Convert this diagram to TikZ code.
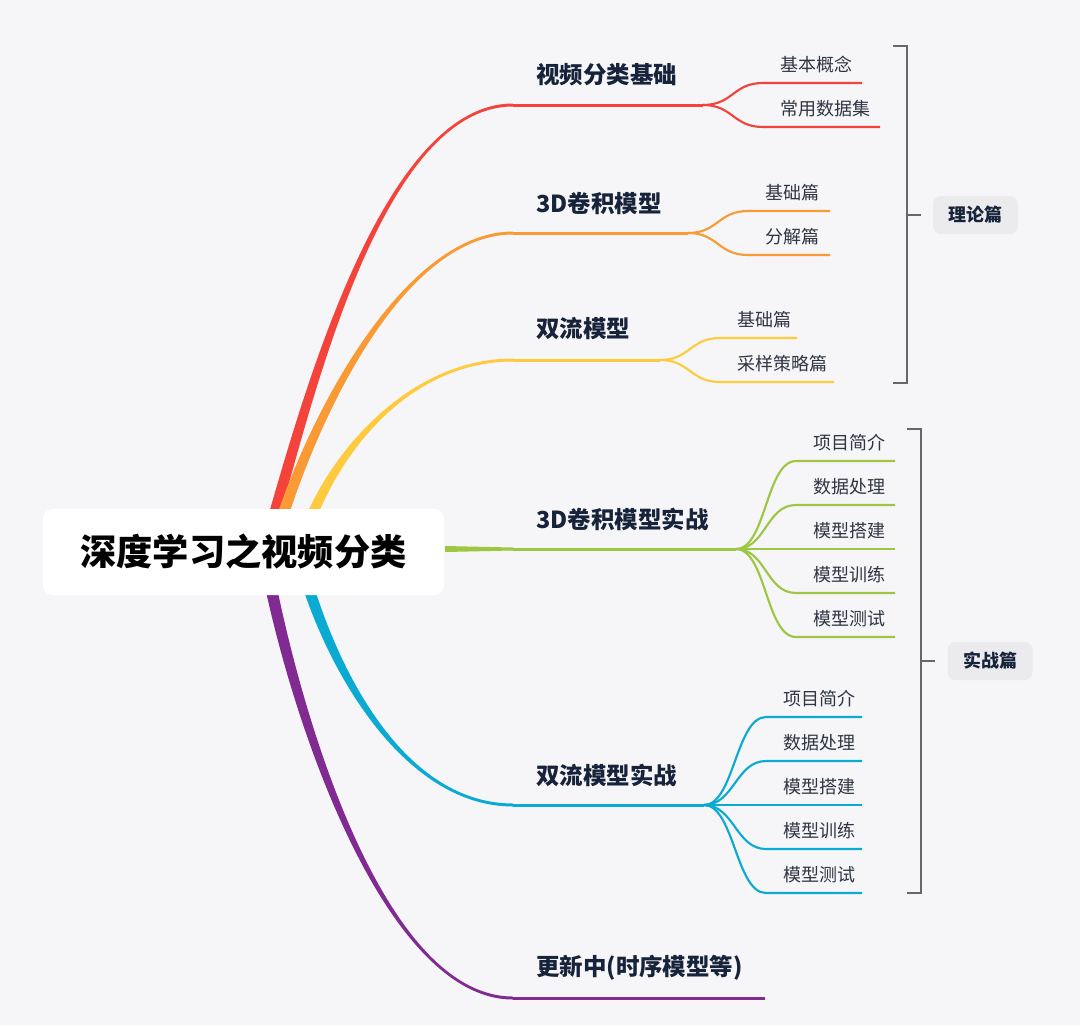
\documentclass[tikz,border=0pt]{standalone}
\usepackage{fontspec}
\setmainfont{Noto Sans CJK SC}
\usetikzlibrary{calc,backgrounds}
\definecolor{bg}{HTML}{F6F6F9}
\definecolor{cred}{HTML}{F4433B}
\definecolor{corange}{HTML}{FA9A34}
\definecolor{cyellow}{HTML}{FECA3E}
\definecolor{cgreen}{HTML}{9EC642}
\definecolor{cblue}{HTML}{0AAAD3}
\definecolor{cpurple}{HTML}{812A91}
\definecolor{ink}{HTML}{17233A}
\definecolor{subink}{HTML}{2F3541}
\definecolor{bracegray}{HTML}{676767}
\definecolor{tagfill}{HTML}{EBEBEE}
\tikzset{
  rootbox/.style={fill=white, rounded corners=7.5pt, minimum width=301pt,
    minimum height=64.5pt, inner sep=0pt, font=\bfseries\fontsize{27.2}{30}\selectfont},
  main/.style={anchor=west, inner sep=0pt, text=ink,
    font=\bfseries\fontsize{17.6}{20}\selectfont},
  subtext/.style={anchor=west, inner sep=0pt, text=subink,
    font=\fontsize{13.5}{16}\selectfont},
  mainline/.style={line width=2.25pt},
  subline/.style={line width=1.6pt},
  brace/.style={draw=bracegray, line width=2pt},
  tag/.style={fill=tagfill, rounded corners=6pt, minimum width=63.75pt,
    minimum height=28.5pt, inner sep=0pt, text=ink,
    font=\bfseries\fontsize{13.5}{16}\selectfont}
}
\begin{document}
\begin{tikzpicture}[x=0.75pt, y=-0.75pt]
\useasboundingbox (0,0) rectangle (1080,1025);

% start and end of the main branches
\coordinate (s1) at (264,551);
\coordinate (s2) at (272,551);
\coordinate (s3) at (300,551);
\coordinate (s4) at (445,549);
\coordinate (s5) at (298,551);
\coordinate (s6) at (264,551);
\coordinate (e1) at (513,105);
\coordinate (e2) at (513,233);
\coordinate (e3) at (513,360);
\coordinate (e4) at (513,549);
\coordinate (e5) at (513,805);
\coordinate (e6) at (513,998);
\coordinate (p1) at (703,105);
\coordinate (p2) at (688,233);
\coordinate (p3) at (660,360);
\coordinate (p4) at (736,549);
\coordinate (p5) at (704,805);
\coordinate (q6) at (765,998);

\begin{scope}[on background layer]
\fill[bg] (0,0) rectangle (1080,1025);
\foreach \col/\s/\e/\sp/\ax/\ay/\bx/\h/\k in {
    cred/s1/e1/p1/36/-121/-138/-1.5/1.5,
    corange/s2/e2/p2/33/-121/-113/-1.5/1.5,
    cyellow/s3/e3/p3/20/-81/-113/-1.5/1.5,
    cblue/s5/e5/p5/27/109/-113/1.5/-1.5,
    cpurple/s6/e6/q6/26/149/-133/1.5/-1.5}{
  \fill[\col] ($(\s)+(-6,0)$) .. controls +(\ax,\ay) and +(\bx,0) .. ($(\e)+(0,\h)$)
    -- ($(\e)+(0,\k)$) .. controls +(\bx,0) and +(\ax,\ay) .. ($(\s)+(6,0)$) -- cycle;
  \draw[mainline, \col] (\e) -- (\sp);
}
\fill[cgreen] ($(s4)+(0,-3)$) -- ($(e4)+(0,-1.5)$) -- ($(e4)+(0,1.5)$) -- ($(s4)+(0,3)$) -- cycle;
\draw[mainline, cgreen] (e4) -- (p4);
\end{scope}

\node[rootbox] (root) at (243.5,552) {深度学习之视频分类};

\node[main] (m1) at (536,75) {视频分类基础};
\node[main] (m2) at (536,203) {3D卷积模型};
\node[main] (m3) at (536,329) {双流模型};
\node[main] (m4) at (536,519) {3D卷积模型实战};
\node[main] (m5) at (536,775) {双流模型实战};
\node[main] (m6) at (536,968) {更新中(时序模型等)};

% sub branches
\foreach \col/\sp/\lx/\ly/\rx/\txt [count=\i] in {
    cred/p1/763/83/862/基本概念,
    cred/p1/763/127/880/常用数据集,
    corange/p2/748/211/830/基础篇,
    corange/p2/748/255/830/分解篇,
    cyellow/p3/720/338/797/基础篇,
    cyellow/p3/720/382/834/采样策略篇,
    cgreen/p4/796/461/895/项目简介,
    cgreen/p4/796/505/895/数据处理,
    cgreen/p4/796/549/895/模型搭建,
    cgreen/p4/796/593/895/模型训练,
    cgreen/p4/796/637/895/模型测试,
    cblue/p5/766/717/862/项目简介,
    cblue/p5/766/761/862/数据处理,
    cblue/p5/766/805/862/模型搭建,
    cblue/p5/766/849/862/模型训练,
    cblue/p5/766/893/862/模型测试}{
  \coordinate (l\i) at (\lx,\ly);
  \coordinate (r\i) at (\rx,\ly);
  \draw[subline, \col] (\sp) .. controls +(30,0) and +(-30,0) .. (l\i) -- (r\i);
  \node[subtext] (t\i) at (\lx+17,\ly-18) {\txt};
}

% brackets
\coordinate (k1) at (907,215);
\coordinate (k2) at (921,661);
\draw[brace] (893,46) -- (907,46) -- (907,383) -- (893,383);
\draw[brace] (k1) -- +(14,0);
\node[tag] (g1) at (975.5,215) {理论篇};
\draw[brace] (907,429) -- (921,429) -- (921,893) -- (907,893);
\draw[brace] (k2) -- +(14,0);
\node[tag] (g2) at (990,661) {实战篇};
\end{tikzpicture}
\end{document}
